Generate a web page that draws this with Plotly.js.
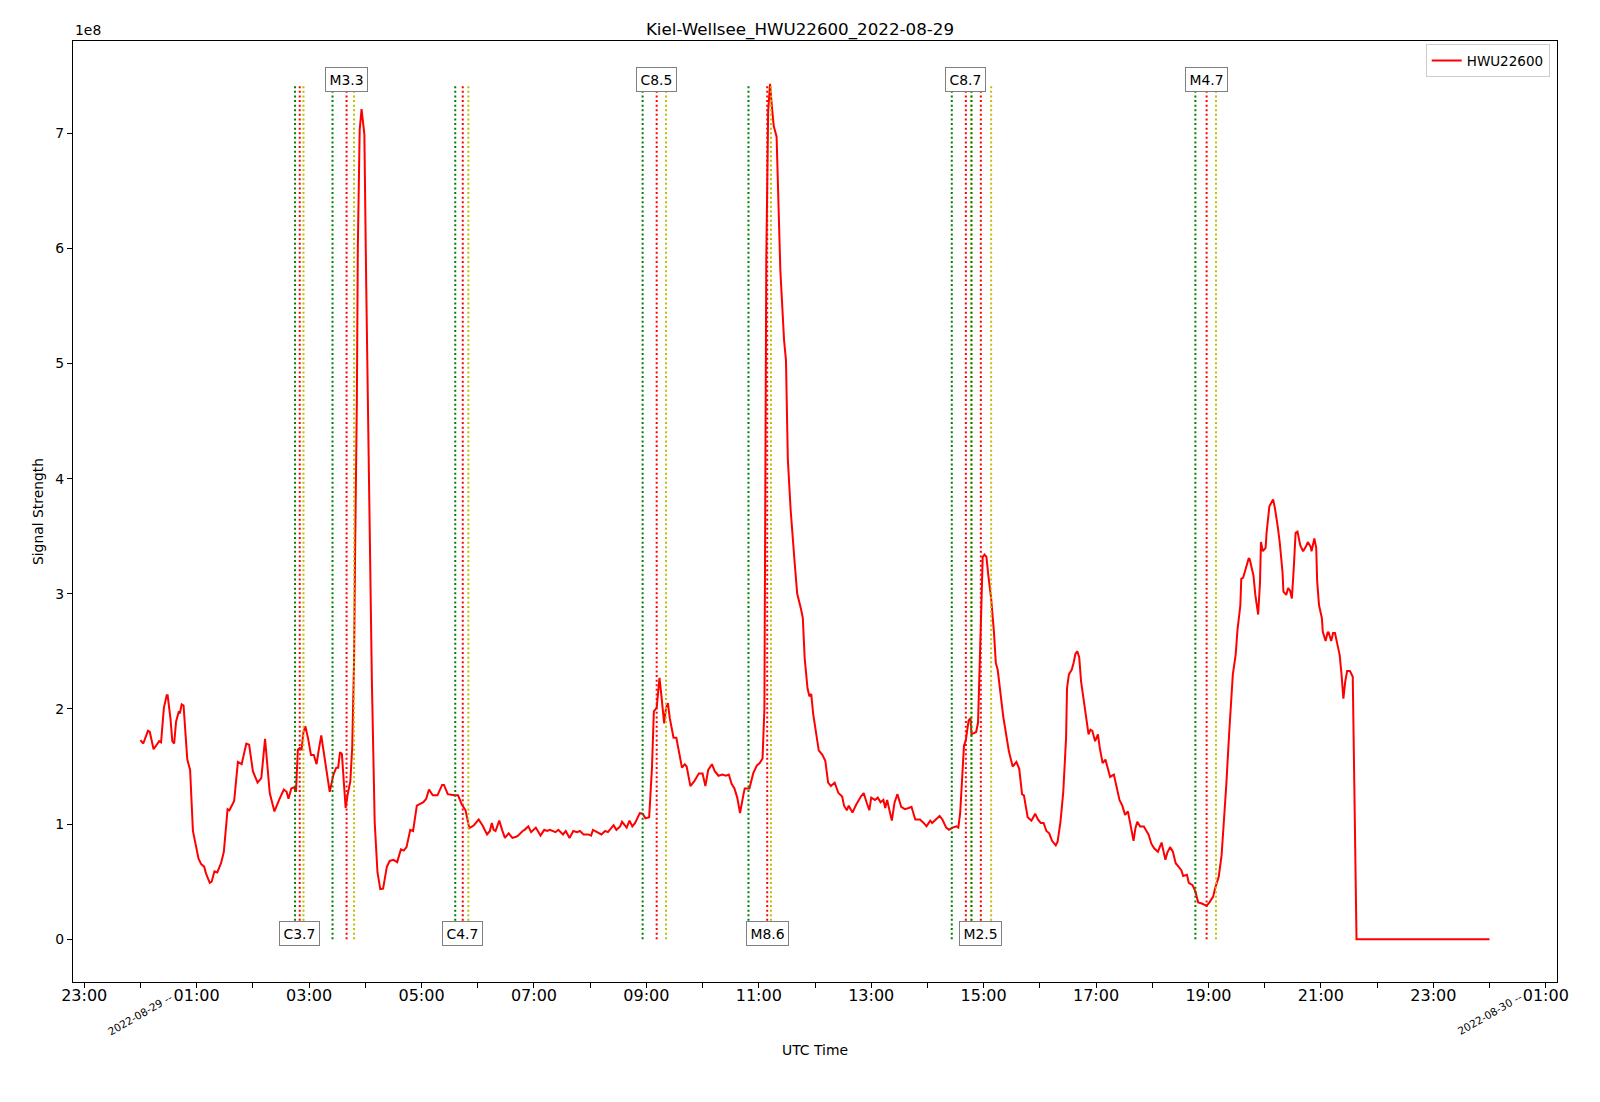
<!DOCTYPE html>
<html><head><meta charset="utf-8">
<script src="https://cdn.plot.ly/plotly-3.0.1.min.js"></script>
<style>html,body{margin:0;padding:0;background:#fff}#chart{width:1600px;height:1102px}</style>
</head><body><div id="chart"></div>
<script>
// ---------- data ----------
const DAY = '2022-08-29';
const NEXT_DAY = '2022-08-30';
const stationName = 'HWU22600';
const chartTitle = 'Kiel-Wellsee_HWU22600_2022-08-29';

const times = [
 '00:00','00:03','00:08','00:10','00:14','00:17','00:20','00:22','00:24','00:25','00:28','00:29','00:32','00:34','00:36','00:38','00:41','00:42','00:44','00:46',
 '00:50','00:53','00:56','00:59','01:02','01:05','01:08','01:10','01:14','01:16','01:19','01:22','01:26','01:29','01:33','01:35','01:40','01:44','01:48','01:53',
 '01:56','02:00','02:05','02:09','02:12','02:13','02:18','02:23','02:28','02:33','02:36','02:38','02:41','02:44','02:46','02:48','02:50','02:52','02:54','02:56',
 '02:59','03:02','03:05','03:08','03:10','03:13','03:15','03:19','03:22','03:26','03:29','03:31','03:33','03:35','03:37','03:39','03:41','03:44','03:46','03:48',
 '03:49','03:51','03:52','03:54','03:56','03:59','04:01','04:04','04:07','04:10','04:13','04:16','04:19','04:23','04:26','04:30','04:34','04:38','04:41','04:44',
 '04:48','04:51','04:55','05:02','05:05','05:08','05:12','05:17','05:22','05:24','05:28','05:35','05:39','05:43','05:47','05:51','05:56','06:01','06:05','06:10',
 '06:13','06:15','06:17','06:19','06:23','06:26','06:29','06:33','06:37','06:41','06:43','06:48','06:50','06:54','06:57','07:02','07:07','07:11','07:14','07:17',
 '07:23','07:26','07:31','07:34','07:38','07:42','07:46','07:49','07:53','07:58','08:01','08:03','08:08','08:12','08:16','08:19','08:25','08:28','08:32','08:34',
 '08:39','08:42','08:45','08:48','08:53','08:56','08:59','09:03','09:06','09:08','09:11','09:13','09:14','09:16','09:19','09:21','09:23','09:25','09:27','09:29',
 '09:32','09:35','09:38','09:41','09:43','09:47','09:51','09:56','10:00','10:03','10:06','10:10','10:13','10:17','10:21','10:25','10:28','10:31','10:34','10:37',
 '10:40','10:43','10:45','10:49','10:50','10:54','10:58','11:01','11:04','11:06','11:07','11:08','11:10','11:12','11:14','11:16','11:19','11:21','11:23','11:27',
 '11:29','11:31','11:34','11:38','11:41','11:45','11:47','11:49','11:52','11:54','11:56','11:58','12:01','12:04','12:08','12:11','12:14','12:17','12:21','12:25',
 '12:29','12:31','12:34','12:36','12:40','12:44','12:49','12:52','12:55','12:58','13:00','13:04','13:07','13:10','13:13','13:15','13:17','13:22','13:25','13:28',
 '13:32','13:36','13:40','13:43','13:47','13:52','13:56','13:59','14:03','14:05','14:09','14:13','14:16','14:20','14:23','14:27','14:31','14:33','14:35','14:39',
 '14:41','14:44','14:46','14:47','14:52','14:54','14:57','14:59','15:01','15:03','15:05','15:08','15:11','15:13','15:15','15:18','15:21','15:23','15:27','15:31',
 '15:35','15:38','15:41','15:43','15:47','15:51','15:55','15:58','16:01','16:04','16:07','16:10','16:13','16:17','16:19','16:22','16:25','16:28','16:29','16:31',
 '16:34','16:36','16:38','16:40','16:42','16:44','16:46','16:49','16:52','16:54','16:56','16:59','17:01','17:02','17:04','17:07','17:10','17:13','17:15','17:19',
 '17:22','17:25','17:28','17:31','17:34','17:37','17:40','17:42','17:44','17:47','17:51','17:53','17:56','17:59','18:02','18:06','18:10','18:11','18:14','18:16',
 '18:19','18:22','18:25','18:28','18:31','18:33','18:37','18:39','18:43','18:46','18:49','18:53','18:58','19:01','19:05','19:07','19:11','19:14','19:16','19:19',
 '19:22','19:24','19:26','19:29','19:31','19:34','19:35','19:37','19:40','19:43','19:44','19:48','19:50','19:53','19:55','19:56','19:58','20:01','20:02','20:05',
 '20:09','20:11','20:14','20:16','20:19','20:20','20:23','20:25','20:27','20:29','20:31','20:33','20:35','20:38','20:41','20:44','20:46','20:49','20:50','20:53',
 '20:55','20:56','20:58','21:01','21:02','21:05','21:07','21:08','21:11','21:13','21:15','21:17','21:20','21:22','21:24','21:26','21:28','21:31','21:34','21:38',
 '22:30','23:30','24:00'
];

// Signal strength in units of 1e8
const signal = [
 1.73,1.70,1.81,1.80,1.65,1.69,1.72,1.71,1.96,2.01,2.12,2.12,1.92,1.72,1.70,1.89,1.98,1.96,2.04,2.03,
 1.56,1.47,0.94,0.81,0.70,0.65,0.63,0.57,0.49,0.50,0.59,0.58,0.66,0.76,1.13,1.12,1.20,1.54,1.52,1.70,
 1.69,1.46,1.36,1.40,1.70,1.74,1.27,1.11,1.21,1.30,1.28,1.22,1.31,1.32,1.28,1.645,1.66,1.65,1.80,1.85,
 1.74,1.60,1.60,1.52,1.63,1.77,1.66,1.43,1.28,1.43,1.49,1.49,1.625,1.61,1.37,1.14,1.25,1.37,1.66,2.41,
 3.28,4.69,6.00,7.03,7.21,6.99,5.67,3.71,2.25,1.02,0.58,0.435,0.44,0.63,0.68,0.69,0.67,0.78,0.77,0.80,
 0.95,0.94,1.16,1.19,1.22,1.30,1.25,1.25,1.34,1.34,1.26,1.25,1.25,1.17,1.12,0.965,0.99,1.04,0.99,0.91,
 0.94,1.01,0.95,0.94,1.03,0.95,0.88,0.92,0.88,0.89,0.90,0.94,0.95,0.98,0.93,0.97,0.90,0.95,0.94,0.95,
 0.93,0.95,0.91,0.94,0.88,0.94,0.93,0.94,0.91,0.91,0.90,0.95,0.93,0.91,0.94,0.93,0.99,0.95,0.98,1.02,
 0.97,1.03,0.98,1.01,1.095,1.09,1.05,1.06,1.49,1.98,2.01,2.195,2.27,2.12,1.875,2.01,2.05,1.92,1.82,1.75,
 1.75,1.62,1.49,1.52,1.50,1.33,1.37,1.44,1.44,1.33,1.47,1.52,1.46,1.42,1.43,1.42,1.43,1.35,1.31,1.23,
 1.095,1.23,1.31,1.31,1.31,1.44,1.51,1.53,1.57,2.00,3.73,5.89,7.19,7.43,7.23,7.06,6.97,6.41,5.81,5.20,
 5.03,4.17,3.73,3.30,3.00,2.87,2.79,2.44,2.18,2.11,2.13,1.96,1.79,1.64,1.60,1.55,1.36,1.33,1.36,1.27,
 1.24,1.16,1.12,1.16,1.10,1.17,1.24,1.27,1.19,1.12,1.23,1.21,1.23,1.19,1.21,1.14,1.21,1.03,1.19,1.26,
 1.15,1.13,1.14,1.15,1.04,1.04,1.01,0.98,1.03,1.01,1.04,1.07,1.04,0.97,0.95,0.97,0.98,0.97,1.10,1.68,
 1.73,1.90,1.92,1.78,1.80,1.88,2.73,3.32,3.34,3.32,3.16,2.96,2.67,2.40,2.34,2.12,1.93,1.83,1.63,1.50,
 1.54,1.48,1.26,1.25,1.06,1.03,1.09,1.04,1.01,1.01,0.94,0.92,0.855,0.815,0.85,1.02,1.28,1.75,2.18,2.30,
 2.34,2.40,2.48,2.50,2.45,2.24,2.11,1.95,1.78,1.82,1.81,1.72,1.76,1.78,1.66,1.53,1.56,1.47,1.41,1.43,
 1.31,1.21,1.16,1.08,1.11,0.965,0.855,0.965,1.02,0.98,0.98,0.95,0.91,0.83,0.79,0.76,0.84,0.80,0.69,0.75,
 0.80,0.76,0.66,0.63,0.60,0.55,0.56,0.49,0.47,0.415,0.32,0.31,0.29,0.32,0.37,0.44,0.545,0.73,0.965,1.34,
 1.78,2.01,2.30,2.47,2.69,2.90,3.13,3.14,3.22,3.31,3.30,3.16,2.99,2.82,3.10,3.45,3.37,3.40,3.53,3.76,
 3.82,3.74,3.58,3.45,3.19,3.02,2.99,3.05,3.03,2.96,3.22,3.53,3.54,3.42,3.37,3.41,3.45,3.41,3.37,3.48,
 3.40,3.11,2.90,2.79,2.67,2.59,2.66,2.67,2.59,2.66,2.66,2.59,2.47,2.30,2.09,2.24,2.33,2.33,2.28,0.0,
 0.0,0.0,0.0
];

// Solar flares (UTC): class, start, peak, end
const flareClass = ['C3.7','M3.3','C4.7','C8.5','M8.6','C8.7','M2.5','M4.7'];
const flareStart = ['02:45','03:25','05:36','08:56','10:49','14:26','14:47','18:46'];
const flarePeak  = ['02:50','03:40','05:44','09:11','11:09','14:41','14:57','18:58'];
const flareEnd   = ['02:54','03:48','05:50','09:21','11:13','14:47','15:08','19:08'];

// ---------- helpers ----------
function toStamp(hhmm){ return hhmm === '24:00' ? NEXT_DAY + ' 00:00' : DAY + ' ' + hhmm; }
function toMs(stamp){ const [d,t] = stamp.split(' '); const [Y,M,D] = d.split('-').map(Number); const [h,m] = t.split(':').map(Number); return Date.UTC(Y,M-1,D,h,m); }
function pad(n){ return String(n).padStart(2,'0'); }
function fmt(ms){ const d = new Date(ms); return d.getUTCFullYear()+'-'+pad(d.getUTCMonth()+1)+'-'+pad(d.getUTCDate())+' '+pad(d.getUTCHours())+':'+pad(d.getUTCMinutes())+':'+pad(d.getUTCSeconds()); }

const xs = times.map(toStamp);
const ys = signal.map(v => v * 1e8);
const yMax = Math.max(...ys);

// matplotlib-like 5% margins
const t0 = toMs(xs[0]), t1 = toMs(xs[xs.length-1]);
const span = t1 - t0;
const xRange = [fmt(t0 - 0.05*span), fmt(t1 + 0.05*span)];
const yRange = [-0.05*yMax, 1.05*yMax];

// hourly ticks; label odd hours
const HOUR = 3600e3;
const tickvals = [], ticktext = [], midnights = [];
for (let t = Math.ceil((t0 - 0.05*span)/HOUR)*HOUR; t <= t1 + 0.05*span; t += HOUR) {
  const d = new Date(t);
  tickvals.push(fmt(t));
  ticktext.push(d.getUTCHours() % 2 === 1 ? pad(d.getUTCHours()) + ':00' : '');
  if (d.getUTCHours() === 0) midnights.push(t);
}
const yTickVals = [], yTickText = [];
for (let k = 0; k * 1e8 <= yMax; k++) { yTickVals.push(k*1e8); yTickText.push(String(k)); }

// ---------- shapes & annotations ----------
const shapes = [];
const annotations = [];
const lineSets = [[flareStart,'#008000'],[flarePeak,'#ff0000'],[flareEnd,'#bfbf00']];
flareClass.forEach((cls, i) => {
  lineSets.forEach(([arr,col]) => {
    shapes.push({type:'line', xref:'x', yref:'y', x0:toStamp(arr[i]), x1:toStamp(arr[i]), y0:0, y1:yMax,
      line:{color:col, width:2, dash:'2px,2.6px'}, layer:'above'});
  });
  const top = i % 2 === 1;
  annotations.push({x:toStamp(flarePeak[i]), xref:'x', y: top ? yMax : 0, yref:'y', yshift: top ? 4.5 : 6,
    text:cls, showarrow:false, xanchor:'center', yanchor:'middle',
    bgcolor:'#ffffff', bordercolor:'#808080', borderwidth:1, borderpad:3.5,
    font:{family:'DejaVu Sans', size:13.9, color:'#000'}});
});
midnights.forEach(t => {
  annotations.push({x:fmt(t), xref:'x', y:-0.0344, yref:'paper', text: fmt(t).slice(0,10) + ' --',
    textangle:-30, showarrow:false, xanchor:'center', yanchor:'middle',
    font:{family:'DejaVu Sans', size:10.5, color:'#000'}});
});
annotations.push({x:0, xref:'paper', y:1, yref:'paper', xanchor:'left', yanchor:'bottom', yshift:1,
  text:'1e8', showarrow:false, font:{family:'DejaVu Sans', size:13.9, color:'#000'}});

// ---------- plot ----------
const trace = {x:xs, y:ys, mode:'lines', name:stationName, line:{color:'#ff0000', width:2}};

const layout = {
  width:1600, height:1102,
  margin:{l:73, r:43, t:41, b:120, pad:0},
  paper_bgcolor:'#ffffff', plot_bgcolor:'#ffffff',
  font:{family:'DejaVu Sans', color:'#000', size:13.9},
  title:{text:chartTitle, font:{size:16.7, color:'#000'}, x:0.5, xref:'container', xanchor:'center', y:1-29/1102, yref:'container', yanchor:'middle'},
  xaxis:{type:'date', range:xRange, tickmode:'array', tickvals:tickvals, ticktext:ticktext,
    ticks:'outside', ticklen:5, tickwidth:1, tickcolor:'#000', tickfont:{size:16}, ticklabelstandoff:-6,
    showline:true, mirror:true, linecolor:'#000', linewidth:1.1, showgrid:false, zeroline:false,
    title:{text:'UTC Time', font:{size:13.9}, standoff:41}},
  yaxis:{range:yRange, tickmode:'array', tickvals:yTickVals, ticktext:yTickText,
    ticks:'outside', ticklen:5, tickwidth:1, tickcolor:'#000', tickfont:{size:13.9},
    showline:true, mirror:true, linecolor:'#000', linewidth:1.1, showgrid:false, zeroline:false,
    title:{text:'Signal Strength', font:{size:13.9}, standoff:8}},
  showlegend:true,
  legend:{x:0.9951, xanchor:'right', y:0.9965, yanchor:'top', bgcolor:'rgba(255,255,255,0.8)',
    bordercolor:'#cccccc', borderwidth:1, font:{size:13.5}},
  shapes:shapes, annotations:annotations
};

Plotly.newPlot('chart', [trace], layout, {displayModeBar:false, staticPlot:true});
</script>
</body></html>
